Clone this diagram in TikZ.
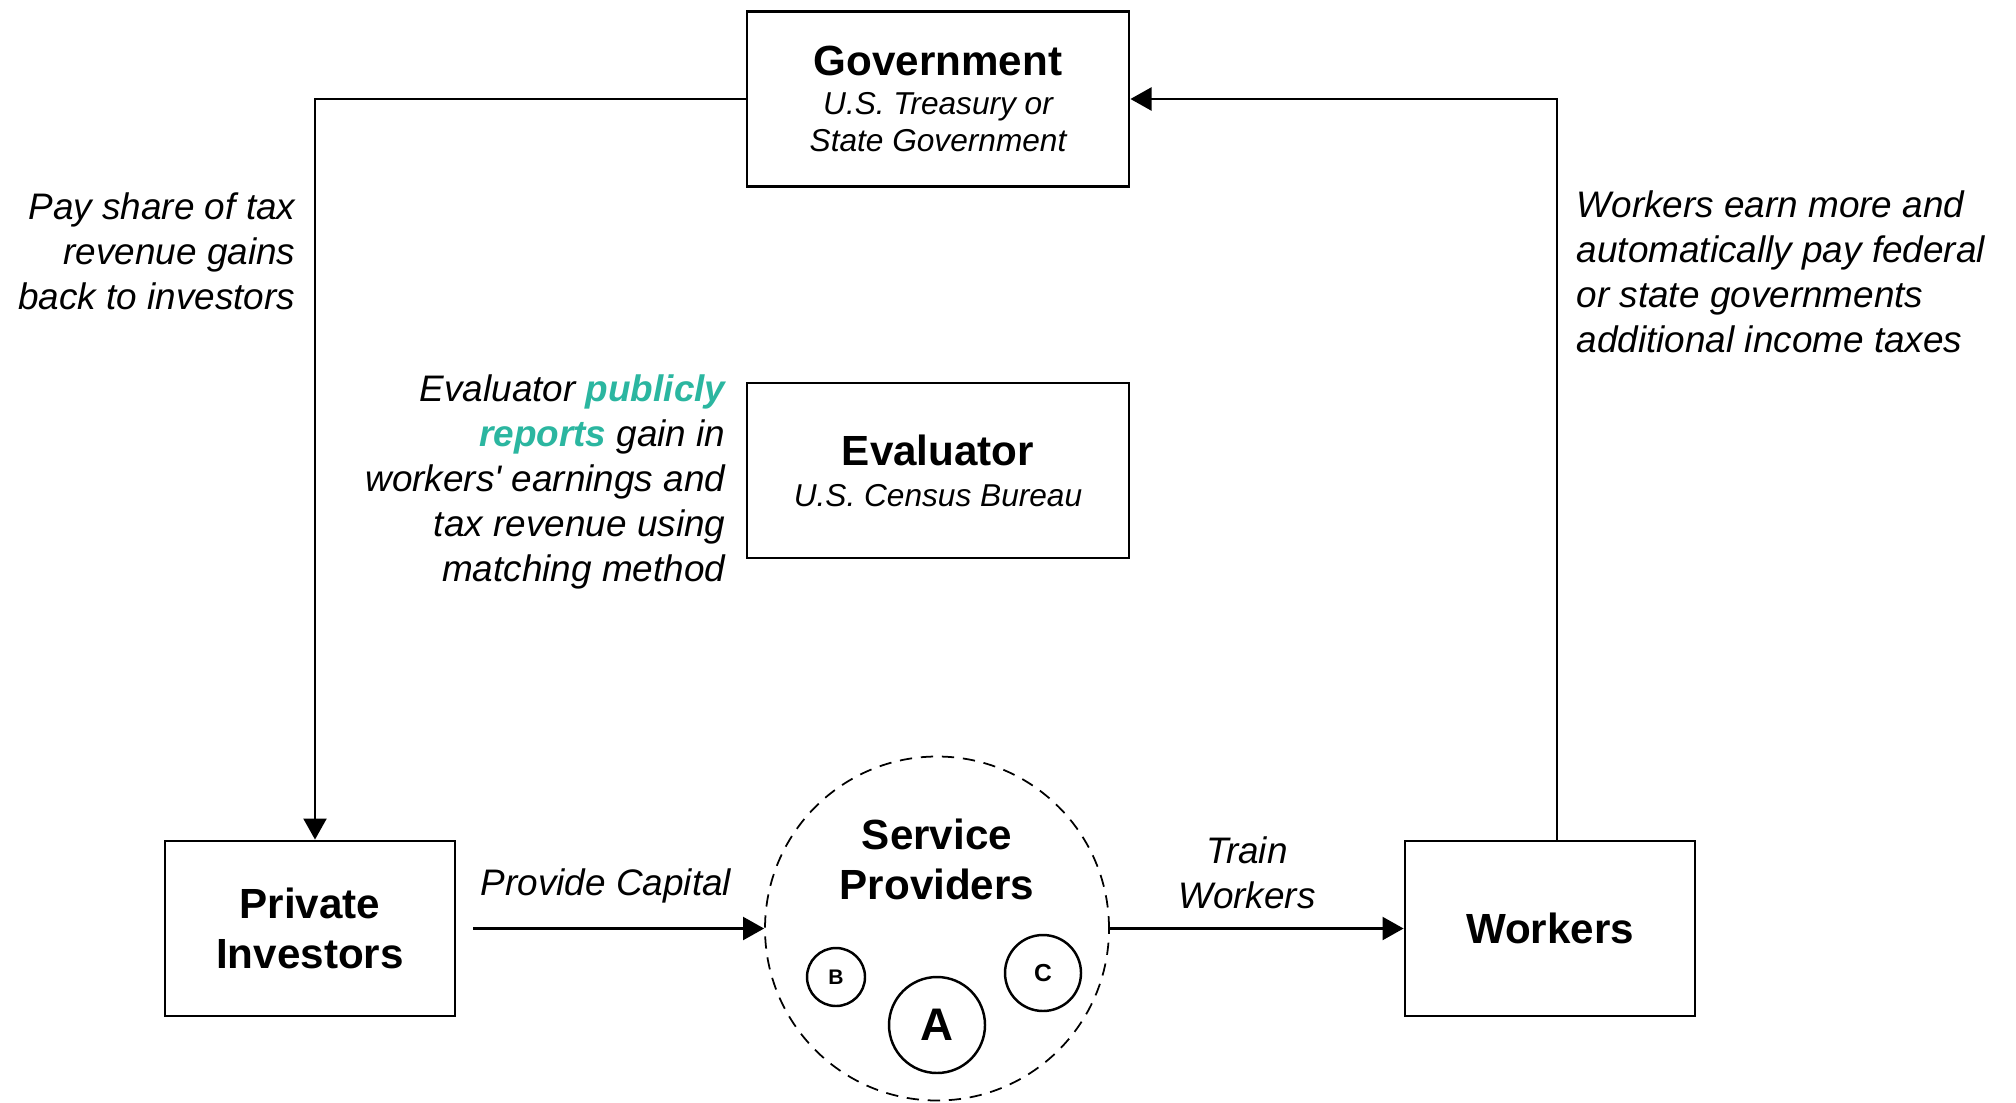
\documentclass[tikz,border=0pt]{standalone}
\usepackage{fontspec}
\setmainfont{Liberation Sans}
\usepackage{tikz}
\usetikzlibrary{positioning, shapes, arrows.meta}
\definecolor{ReportTeal}{RGB}{43,182,160}
\newcommand{\headfont}{\fontsize{12}{14.2}\selectfont\bfseries\upshape}
\newcommand{\subfont}{\fontsize{9}{10.5}\selectfont\itshape}

\begin{document}
\begin{tikzpicture}[
  box/.style={rectangle, draw, line width=0.8pt, minimum width=3.82cm, minimum height=1.75cm, align=center},
  note/.style={font=\fontsize{10.5}{12.8}\selectfont\itshape, inner sep=0pt},
  arrow/.style={-{Triangle[length=6pt,width=6.5pt]}, line width=0.8pt},
  firm/.style={circle, draw, line width=0.7pt, inner sep=0pt}
]
\useasboundingbox (0,0) rectangle (20.16,11.02);

% boxes
\node[box, font=\subfont] (gov) at (9.38,10.03) {{\headfont Government}\\[0.8pt] U.S. Treasury or\\ State Government};
\node[box, font=\subfont] (eval) at (9.38,6.315) {{\headfont Evaluator}\\[1.2pt] U.S. Census Bureau};
\node[box, minimum width=2.9cm, font=\headfont] (inv) at (3.10,1.735) {Private\\ Investors};
\node[box, minimum width=2.9cm, font=\headfont] (wrk) at (15.50,1.735) {Workers};

% service providers
\node[circle, draw, dashed, dash pattern=on 3.5pt off 2.5pt, line width=0.5pt, minimum size=3.44cm, inner sep=0pt] (srv) at (9.37,1.735) {};
\node[font=\headfont, align=center] (srvlbl) at (9.37,2.43) {Service\\ Providers};
\node[firm, minimum size=0.96cm, font=\fontsize{13}{15}\selectfont\bfseries] (firmA) at (9.37,0.77) {A};
\node[firm, minimum size=0.58cm, font=\fontsize{6}{7}\selectfont\bfseries] (firmB) at (8.36,1.25) {B};
\node[firm, minimum size=0.76cm, font=\fontsize{7}{8}\selectfont\bfseries] (firmC) at (10.43,1.29) {C};

% labels
\node[note, anchor=east, align=right] (paylbl) at (2.96,8.51) {Pay share of tax\\ revenue gains\\ back to investors};
\node[note, anchor=west, align=left] (taxlbl) at (15.76,8.30) {Workers earn more and\\ automatically pay federal\\ or state governments\\ additional income taxes};
\node[note, anchor=east, align=right] (evallbl) at (7.26,6.20) {Evaluator {\bfseries\color{ReportTeal}publicly}\\ {\bfseries\color{ReportTeal}reports} gain in\\ workers\textquotesingle{} earnings and\\ tax revenue using\\ matching method};
\node[note] (caplbl) at (6.06,2.16) {Provide Capital};
\node[note, align=center] (trainlbl) at (12.47,2.29) {Train\\ Workers};

% flows
\draw[arrow] (gov.west) -| ([xshift=0.05cm]inv.north);
\draw[arrow] ([xshift=0.07cm]wrk.north) |- (gov.east);
\draw[arrow, shorten <=0.17cm] (inv.east) -- (srv.west);
\draw[arrow] (srv.east) -- (wrk.west);
\end{tikzpicture}
\end{document}
